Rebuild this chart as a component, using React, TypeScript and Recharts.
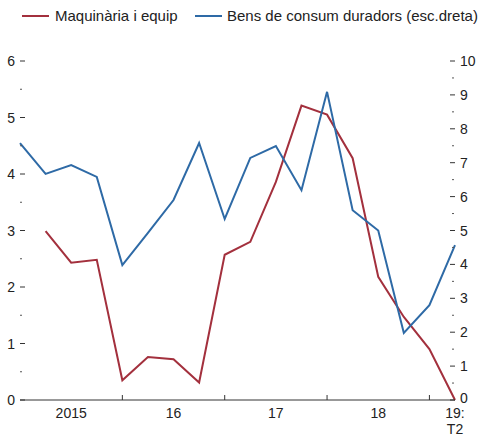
import React from 'react';
import { LineChart, Line, XAxis, YAxis } from 'recharts';

const quarters = ['2015T1','2015T2','2015T3','2015T4','2016T1','2016T2','2016T3','2016T4','2017T1','2017T2','2017T3','2017T4','2018T1','2018T2','2018T3','2018T4','2019T1','2019T2'];
const maquinaria: (number | null)[] = [null, 2.99, 2.43, 2.48, 0.35, 0.76, 0.72, 0.31, 2.57, 2.8, 3.86, 5.21, 5.05, 4.28, 2.18, 1.47, 0.9, 0];
const bens = [7.58, 6.67, 6.93, 6.58, 3.98, 4.93, 5.9, 7.58, 5.34, 7.14, 7.49, 6.19, 9.09, 5.6, 5.0, 1.98, 2.8, 4.57];
const yearLabels = ['2015', '16', '17', '18', '19:\nT2'];
const yearLabelPos = [2, 6, 10, 14, 17];
const yearBoundaries = [4, 8, 12, 16];
const leftTicks = [0, 0.5, 1, 1.5, 2, 2.5, 3, 3.5, 4, 4.5, 5, 5.5, 6];
const rightTicks = [0, 0.5, 1, 1.5, 2, 2.5, 3, 3.5, 4, 4.5, 5, 5.5, 6, 6.5, 7, 7.5, 8, 8.5, 9, 9.5, 10];

const data = quarters.map((q, i) => ({ i, q, maq: maquinaria[i], bens: bens[i] }));

const RED = '#A3303D';
const BLUE = '#2E6AA6';
const FONT = '"Liberation Sans Narrow", "Arial Narrow", "Liberation Sans", Arial, sans-serif';
const TXT = '#222';

const LeftTick = (props: any) => {
  const { x, y, payload } = props;
  const v = payload.value;
  const major = Number.isInteger(v);
  return (
    <g>
      {major ? (
        <>
          <line x1={x} x2={x + 5} y1={y} y2={y} stroke="#333" strokeWidth={1} />
          <text x={x - 5} y={y} dy={5} textAnchor="end" fontSize={14} fontFamily={FONT} fill={TXT}>{v}</text>
        </>
      ) : (
        <line x1={x} x2={x + 2} y1={y} y2={y} stroke="#555" strokeWidth={1} />
      )}
    </g>
  );
};

const RightTick = (props: any) => {
  const { x, y, payload } = props;
  const v = payload.value;
  const major = Number.isInteger(v);
  return (
    <g>
      {major ? (
        <>
          <line x1={x - 5} x2={x} y1={y} y2={y} stroke="#333" strokeWidth={1} />
          <text x={x + 5} y={y} dy={v === 0 ? 3 : 5} textAnchor="start" fontSize={14} fontFamily={FONT} fill={TXT}>{v}</text>
        </>
      ) : (
        <line x1={x - 3} x2={x - 1} y1={y} y2={y} stroke="#555" strokeWidth={1} />
      )}
    </g>
  );
};

const XTick = (props: any) => {
  const { x, y, payload } = props;
  const v = payload.value;
  if (yearBoundaries.includes(v)) {
    return <line x1={x} x2={x} y1={y} y2={y - 5} stroke="#333" strokeWidth={1} />;
  }
  const idx = yearLabelPos.indexOf(v);
  if (idx < 0) return null;
  const lines = yearLabels[idx].split('\n');
  return (
    <text x={x} y={y} textAnchor="middle" fontSize={14} fontFamily={FONT} fill={TXT}>
      {lines.map((l, k) => (
        <tspan key={k} x={x} dy={k === 0 ? 18 : 16}>{l}</tspan>
      ))}
    </text>
  );
};

export default function App() {
  return (
    <div style={{ position: 'absolute', left: 0, top: 0, width: 485, height: 436, background: '#fff' }}>
      <div style={{ position: 'absolute', left: 0, top: 0, width: 485, height: 30, fontFamily: FONT, fontSize: 15, color: TXT }}>
        <div style={{ position: 'absolute', left: 22, top: 7, display: 'flex', alignItems: 'center', whiteSpace: 'nowrap' }}>
          <span style={{ display: 'inline-block', width: 27, height: 2, background: RED, marginRight: 6 }} />
          <span>Maquinària i equip</span>
        </div>
        <div style={{ position: 'absolute', left: 195, top: 7, display: 'flex', alignItems: 'center', whiteSpace: 'nowrap' }}>
          <span style={{ display: 'inline-block', width: 27, height: 2, background: BLUE, marginRight: 5 }} />
          <span>Bens de consum duradors (esc.dreta)</span>
        </div>
      </div>
      <div style={{ position: 'absolute', left: 0, top: 0 }}>
        <LineChart width={485} height={436} data={data} margin={{ top: 61, right: 0, bottom: 0, left: 0 }}>
          <XAxis
            dataKey="i"
            type="number"
            domain={[0, 17]}
            ticks={[...yearLabelPos, ...yearBoundaries].sort((a, b) => a - b)}
            interval={0}
            height={36}
            tickLine={false}
            tickSize={0}
            tickMargin={0}
            axisLine={{ stroke: '#333', strokeWidth: 1 }}
            tick={<XTick />}
          />
          <YAxis
            yAxisId="left"
            orientation="left"
            domain={[0, 6]}
            ticks={leftTicks}
            interval={0}
            width={20}
            tickSize={0}
            tickMargin={0}
            tickLine={false}
            axisLine={false}
            tick={<LeftTick />}
          />
          <YAxis
            yAxisId="right"
            orientation="right"
            domain={[0, 10]}
            ticks={rightTicks}
            interval={0}
            width={30}
            tickSize={0}
            tickMargin={0}
            tickLine={false}
            axisLine={false}
            tick={<RightTick />}
          />
          <Line yAxisId="left" dataKey="maq" stroke={RED} strokeWidth={2} dot={false} isAnimationActive={false} connectNulls={false} />
          <Line yAxisId="right" dataKey="bens" stroke={BLUE} strokeWidth={2} dot={false} isAnimationActive={false} />
        </LineChart>
      </div>
    </div>
  );
}
